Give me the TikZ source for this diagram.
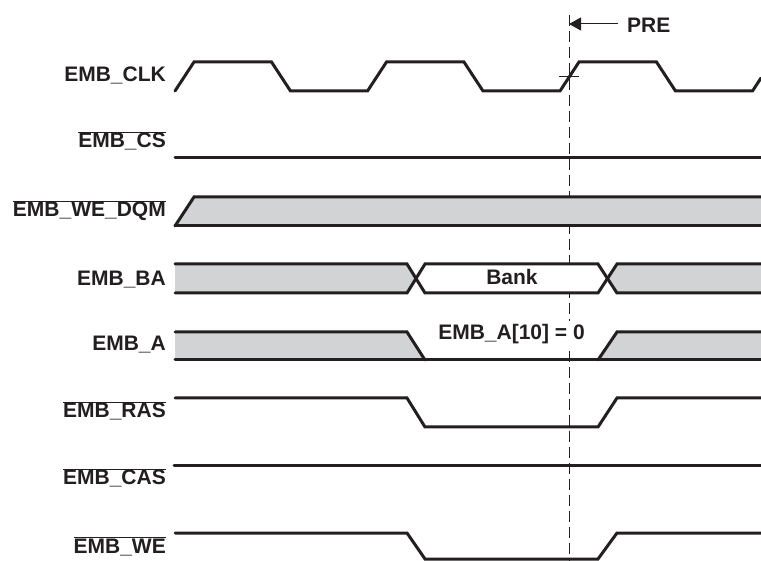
\documentclass[tikz,border=0pt]{standalone}
\usepackage{fontspec}
\setmainfont{Liberation Sans}
\usetikzlibrary{arrows.meta}
\definecolor{ink}{HTML}{231F20}
\definecolor{busgray}{HTML}{D1D3D4}
\newcommand{\ovl}[1]{$\overline{\mbox{#1}}$}
\begin{document}
\begin{tikzpicture}[x=1pt,y=-1pt,
  sig/.style={draw=ink,line width=3pt,line cap=round,line join=miter},
  busfill/.style={fill=busgray,draw=none},
  lbl/.style={anchor=base east,inner sep=0pt,text=ink,font=\fontsize{21}{25}\selectfont\bfseries},
  txt/.style={inner sep=0pt,text=ink,font=\fontsize{21}{25}\selectfont\bfseries},
  guide/.style={draw=ink,line width=1pt,dash pattern=on 11pt off 5pt}]
\useasboundingbox (0,0) rectangle (761,561);
% dashed reference line (drawn first, hidden under fills)
\coordinate (dtop) at (569,15);
\coordinate (dbot) at (569,561);
\draw[guide] (dtop) -- (dbot);
% labels
\node[lbl] (clk) at (166,82) {EMB\_CLK};
\node[lbl] (cs) at (166,148) {\ovl{EMB\_CS}};
\node[lbl] (dqm) at (166,217) {\ovl{EMB\_WE\_DQM}};
\node[lbl] (ba) at (166,286) {EMB\_BA};
\node[lbl] (a) at (166,351) {EMB\_A};
\node[lbl] (ras) at (166,418) {\ovl{EMB\_RAS}};
\node[lbl] (cas) at (166,485) {\ovl{EMB\_CAS}};
\node[lbl] (we) at (166,553) {\ovl{EMB\_WE}};
% clock
\draw[sig] (175,91) -- (194,62) -- (271.5,62) -- (290.5,91) -- (367.5,91) -- (386.5,62)
  -- (464,62) -- (483,91) -- (560,91) -- (579,62) -- (656.5,62) -- (675.5,91)
  -- (752.5,91) -- (761,78);
% CS
\draw[sig] (175,158) -- (761,158);
% WE_DQM
\fill[busfill] (175,226) -- (194,197) -- (765,197) -- (765,226) -- cycle;
\draw[sig] (175,226) -- (194,197) -- (765,197);
\draw[sig] (175,226) -- (765,226);
% BA
\fill[busfill] (175,264) -- (407,264) -- (416,278.5) -- (407,293) -- (175,293) -- cycle;
\fill[white] (416,278.5) -- (425,264) -- (598,264) -- (607.5,278.5) -- (598,293) -- (425,293) -- cycle;
\fill[busfill] (765,264) -- (617,264) -- (607.5,278.5) -- (617,293) -- (765,293) -- cycle;
\draw[sig] (175,264) -- (407,264) -- (425,293) -- (598,293) -- (617,264) -- (765,264);
\draw[sig] (175,293) -- (407,293) -- (425,264) -- (598,264) -- (617,293) -- (765,293);
\node[txt,anchor=base] (bank) at (512,285) {Bank};
% A
\fill[busfill] (175,332) -- (407,332) -- (425,360) -- (175,360) -- cycle;
\fill[busfill] (598,360) -- (617,332) -- (765,332) -- (765,360) -- cycle;
\draw[sig] (175,332) -- (407,332) -- (425,360);
\draw[sig] (175,360) -- (765,360);
\draw[sig] (598,360) -- (617,332) -- (765,332);
\node[txt,fill=white,inner sep=4pt,anchor=base] (a10) at (511.5,340) {EMB\_A[10] = 0};
% RAS
\draw[sig] (175,398) -- (407,398) -- (425,427) -- (598,427) -- (617,398) -- (765,398);
% CAS
\draw[sig] (174,465) -- (765,465);
% WE
\draw[sig] (175,533) -- (407,533) -- (425,559) -- (598,559) -- (617,533) -- (765,533);
% PRE marker
\coordinate (tickl) at (559,77);
\coordinate (tickr) at (579,77);
\draw[draw=ink,line width=1pt] (tickl) -- (tickr);
\coordinate (astart) at (618,24);
\coordinate (aend) at (569,24);
\draw[draw=ink,line width=1pt,-{Triangle[length=12pt,width=13pt]}] (astart) -- (aend);
\node[txt,anchor=base west] (pre) at (627,33) {PRE};
\end{tikzpicture}
\end{document}
